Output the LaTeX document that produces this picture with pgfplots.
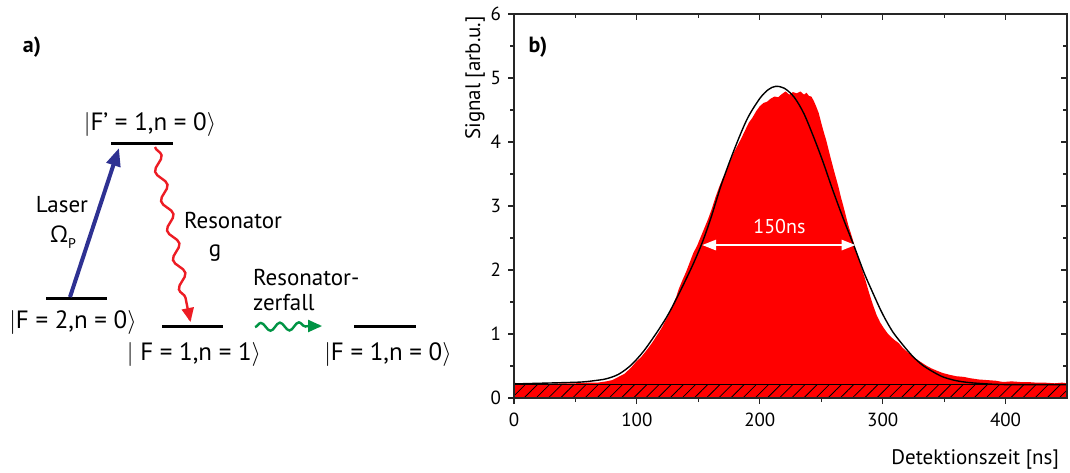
\documentclass[border=0pt]{standalone}
\usepackage{pgfplots}
\pgfplotsset{compat=1.18}
\usepackage{fontspec}
\setmainfont{PT Sans}
\newfontfamily\grfont{Open Sans}
\usetikzlibrary{patterns,patterns.meta,decorations.pathmorphing,arrows.meta}
\definecolor{laserblue}{RGB}{46,49,146}
\definecolor{resred}{RGB}{237,28,36}
\definecolor{decgreen}{RGB}{0,148,68}

\pgfplotstableread{
x y
0 0.24
3 0.23
6 0.22
12 0.22
20 0.22
30 0.22
40 0.23
50 0.23
60 0.24
68 0.24
75 0.26
80 0.28
85 0.33
90 0.38
95 0.47
100 0.58
103 0.63
106 0.70
110 0.80
113 0.88
116 0.97
120 1.09
123 1.20
126 1.30
129 1.44
132 1.58
134 1.70
137 1.84
140 1.97
143 2.12
146 2.27
149 2.38
152 2.52
155 2.66
158 2.80
161 2.96
164 3.14
167 3.30
170 3.44
173 3.55
176 3.70
179 3.84
182 3.95
185 4.06
188 4.18
191 4.30
194 4.38
197 4.48
200 4.56
203 4.61
206 4.63
209 4.68
212 4.71
215 4.70
218 4.75
221 4.79
224 4.74
227 4.78
230 4.76
233 4.79
236 4.74
238 4.77
240 4.72
242 4.71
244 4.64
246 4.55
248 4.45
250 4.30
252 4.16
254 4.03
257 3.80
260 3.58
262 3.44
264 3.30
266 3.14
268 3.00
270 2.85
272 2.70
275 2.52
278 2.32
280 2.20
283 2.02
286 1.84
289 1.64
292 1.46
295 1.30
298 1.18
301 1.09
304 1.01
307 0.95
310 0.90
313 0.86
316 0.79
320 0.72
324 0.66
328 0.60
332 0.55
336 0.50
340 0.46
345 0.42
349 0.39
355 0.36
360 0.34
366 0.33
371 0.31
378 0.29
385 0.28
392 0.27
398 0.25
405 0.26
412 0.25
418 0.25
425 0.24
432 0.24
440 0.23
446 0.24
450 0.23
}\signaldata

\pgfplotstableread{
x y
0 0.22
20 0.23
40 0.24
55 0.25
65 0.27
75 0.30
85 0.37
95 0.51
105 0.72
115 0.99
125 1.29
135 1.66
145 2.06
153 2.42
160 2.80
169 3.35
180 3.92
190 4.37
200 4.68
207 4.82
213 4.87
220 4.84
228 4.70
236 4.44
245 4.02
252 3.66
259 3.27
268 2.80
277 2.36
285 1.95
293 1.60
300 1.31
308 1.04
316 0.84
324 0.66
332 0.52
340 0.42
349 0.33
360 0.27
371 0.24
385 0.22
400 0.21
450 0.21
}\fitdata

\begin{document}
\begin{tikzpicture}
\useasboundingbox (0,0) rectangle (535pt,-236pt);

% ---------- panel a ----------
\begin{scope}[x=0.5pt,y=0.5pt]
\node[font=\fontsize{11}{13}\selectfont\bfseries] at (32,-47) {a)};
\draw[line width=1.5pt] (111,-143) -- (173,-143);
\draw[line width=1.5pt] (46,-298) -- (107,-298);
\draw[line width=1.5pt] (162,-326) -- (223,-326);
\draw[line width=1.5pt] (354,-326) -- (416,-326);
\node[font=\fontsize{12.5}{14}\selectfont] at (150,-124) {$\vert$F’ = 1,n = 0$\rangle$};
\node[font=\fontsize{12.5}{14}\selectfont] at (73,-322) {$\vert$F = 2,n = 0$\rangle$};
\node[font=\fontsize{12.5}{14}\selectfont] at (194,-354) {$\vert$ F = 1,n = 1$\rangle$};
\node[font=\fontsize{12.5}{14}\selectfont] at (388,-354) {$\vert$F = 1,n = 0$\rangle$};
\draw[laserblue, line width=2pt, -{Triangle[length=9pt,width=7pt]}] (70,-297) -- (119,-148);
\node[font=\fontsize{11.5}{13}\selectfont] at (62,-205) {Laser};
\node[font=\fontsize{11.5}{13}\selectfont] at (63,-237) {{\grfont Ω}\raisebox{-0.5ex}{\fontsize{7}{8}\selectfont P}};
\draw[resred, line width=1.2pt, decorate, decoration={snake, amplitude=2.4pt, segment length=15pt, post length=7pt}] (155,-147) -- (190,-320);
\draw[resred, line width=1.2pt, -{Triangle[length=7pt,width=6pt]}] (188.7,-313) -- (190.5,-322);
\node[font=\fontsize{11.5}{13}\selectfont] at (233,-220) {Resonator};
\node[font=\fontsize{11.5}{13}\selectfont] at (215,-253) {g};
\node[font=\fontsize{11.5}{13}\selectfont, anchor=west] at (246,-277) {Resonator-};
\node[font=\fontsize{11.5}{13}\selectfont, anchor=west] at (246,-303) {zerfall};
\draw[decgreen, line width=1.2pt, decorate, decoration={snake, amplitude=2pt, segment length=9.5pt, post length=6pt}] (255,-327) -- (320,-326);
\draw[decgreen, line width=1.2pt, -{Triangle[length=7pt,width=6pt]}] (312,-326) -- (322,-326);
\end{scope}

% ---------- panel b ----------
\begin{axis}[
  at={(257pt,-199pt)}, anchor=south west, scale only axis,
  width=276.5pt, height=192pt,
  xmin=0, xmax=450, ymin=0, ymax=6,
  xtick={0,100,...,400}, ytick={0,1,...,6},
  minor x tick num=1, minor y tick num=1,
  tick align=outside, xtick pos=bottom, ytick pos=left,
  major tick length=3pt, minor tick length=2pt,
  axis line style={line width=0.6pt, black!85},
  tick style={line width=0.6pt, black!85},
  tick label style={font=\fontsize{9.5}{11}\selectfont},
  /pgf/number format/assume math mode=true,
  xticklabel style={yshift=-1pt},
  axis on top,
  clip=true,
]
\addplot[draw=none, fill=red] table[x=x,y=y] {\signaldata} \closedcycle;
\addplot[draw=black, line width=0.5pt, fill=red, postaction={pattern={Lines[angle=45, distance=4.3pt, line width=0.4pt]}, pattern color=black}] coordinates {(0,0.21) (450,0.21)} \closedcycle;
\addplot[black, line width=0.7pt, smooth] table[x=x,y=y] {\fitdata};
\draw[white, line width=1.3pt, {Triangle[length=7pt,width=5pt]}-{Triangle[length=7pt,width=5pt]}] (axis cs:153,2.39) -- (axis cs:278,2.39);
\node[white, font=\fontsize{10}{12}\selectfont] at (axis cs:216,2.68) {150ns};
\end{axis}
\begin{axis}[
  at={(257pt,-199pt)}, anchor=south west, scale only axis,
  width=276.5pt, height=192pt,
  xmin=0, xmax=450, ymin=0, ymax=6,
  xtick={0,100,...,400}, ytick={0,1,...,6},
  minor x tick num=1, minor y tick num=1,
  tick align=inside, xtick pos=top, ytick pos=right,
  major tick length=3pt, minor tick length=2pt,
  axis line style={line width=0.6pt, black!85},
  tick style={line width=0.6pt, black!85},
  xticklabels={}, yticklabels={},
]
\end{axis}
\node[font=\fontsize{11}{13}\selectfont\bfseries] at (269pt,-23.5pt) {b)};
\node[rotate=90, font=\fontsize{10.5}{12}\selectfont] at (237.5pt,-39pt) {Signal [arb.u.]};
\node[anchor=east, font=\fontsize{10.5}{12}\selectfont] at (533pt,-229.5pt) {Detektionszeit [ns]};
\end{tikzpicture}
\end{document}
